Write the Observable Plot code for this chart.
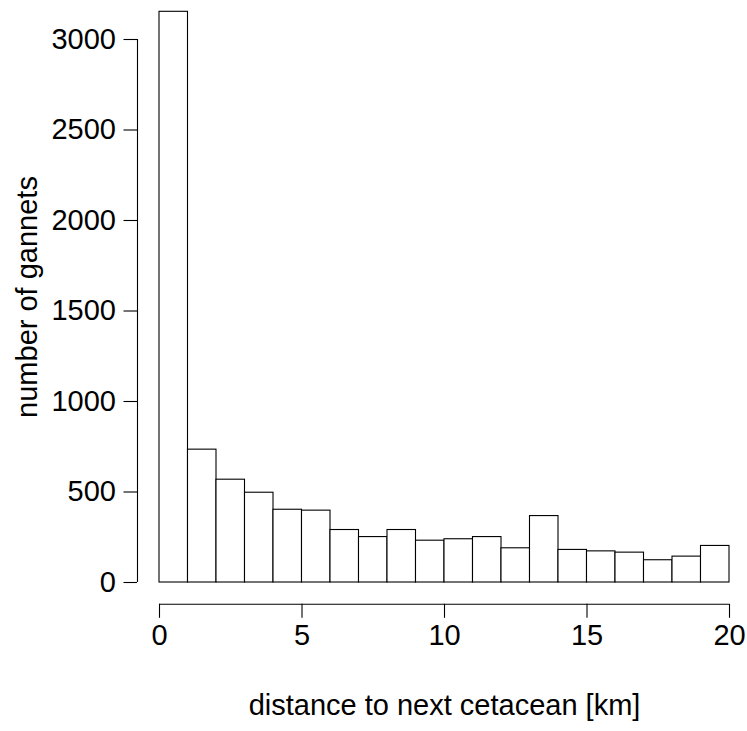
<!DOCTYPE html>
<html>
<head>
<meta charset="utf-8">
<script src="https://cdn.jsdelivr.net/npm/d3@7"></script>
<script src="https://cdn.jsdelivr.net/npm/@observablehq/plot@0.6"></script>
<style>
  html, body { margin: 0; padding: 0; background: #fff; }
  #chart svg { display: block; }
</style>
</head>
<body>
<div id="chart"></div>
<script>
// Histogram bins (km) and counts
const binStart = [0, 1, 2, 3, 4, 5, 6, 7, 8, 9, 10, 11, 12, 13, 14, 15, 16, 17, 18, 19];
const binEnd   = [1, 2, 3, 4, 5, 6, 7, 8, 9, 10, 11, 12, 13, 14, 15, 16, 17, 18, 19, 20];
const counts   = [3153, 734, 568, 496, 402, 397, 290, 251, 290, 231, 239, 251, 189, 367, 180, 172, 165, 123, 143, 202];

const xTicks = [0, 5, 10, 15, 20];
const yTicks = [0, 500, 1000, 1500, 2000, 2500, 3000];
const xLabel = "distance to next cetacean [km]";
const yLabel = "number of gannets";

const bins = binStart.map((s, i) => ({x1: s, x2: binEnd[i], count: counts[i]}));

const chart = Plot.plot({
  width: 747,
  height: 731,
  marginLeft: 159,
  marginRight: 18,
  marginTop: 39,
  marginBottom: 149,
  style: {fontFamily: "'Liberation Sans', Arial, sans-serif", fontSize: "29px", background: "#fff", color: "#000"},
  x: {domain: [0, 20]},
  y: {domain: [0, 3000]},
  marks: [
    Plot.rectY(bins, {x1: "x1", x2: "x2", y: "count", fill: "#fff", stroke: "#000", strokeWidth: 1.1}),
    // R-style detached axes
    Plot.ruleX([0], {y1: 0, y2: 3000, dx: -22, stroke: "#000", strokeWidth: 1.1}),
    Plot.axisY(yTicks, {anchor: "left", tickSize: 13.5, tickPadding: 8, dx: -22, fontSize: 29, tickFormat: d => String(d), label: null, stroke: "#000", strokeWidth: 1.1}),
    Plot.ruleY([0], {x1: 0, x2: 20, dy: 21.8, stroke: "#000", strokeWidth: 1.1}),
    Plot.axisX(xTicks, {anchor: "bottom", tickSize: 14, tickPadding: 6, dy: 21.8, fontSize: 29, tickFormat: d => String(d), label: null, stroke: "#000", strokeWidth: 1.1}),
    Plot.text([xLabel], {text: d => d, frameAnchor: "bottom", textAnchor: "middle", dy: 132, fontSize: 29}),
    Plot.text([yLabel], {text: d => d, frameAnchor: "left", textAnchor: "middle", rotate: -90, dx: -131.5, dy: -14, fontSize: 29})
  ]
});
document.getElementById("chart").appendChild(chart);
</script>
</body>
</html>
